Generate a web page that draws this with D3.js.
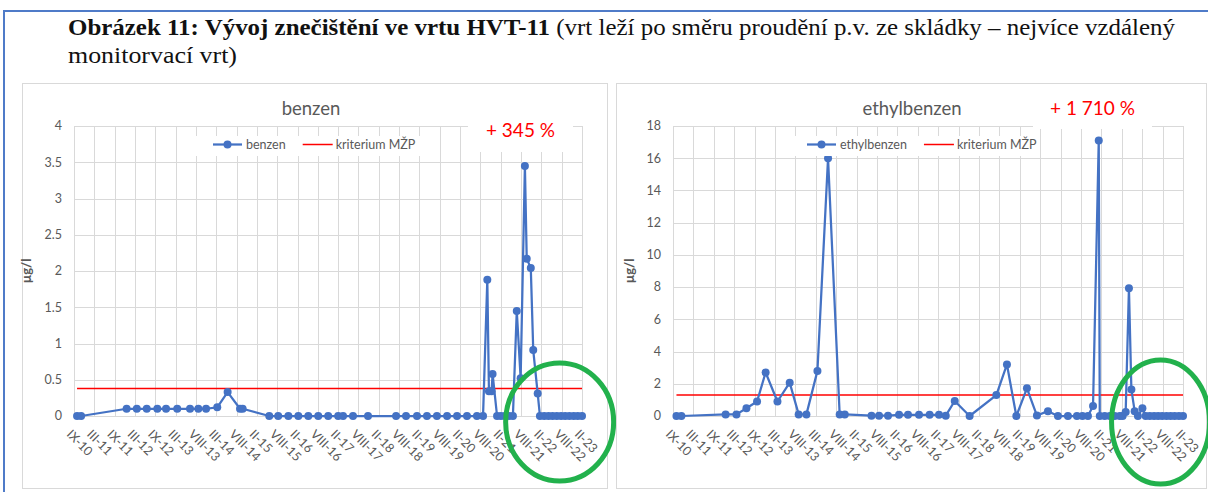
<!DOCTYPE html>
<html>
<head>
<meta charset="utf-8">
<script src="https://cdn.jsdelivr.net/npm/d3@7"></script>
<style>
  body { margin: 0; background: #fff; }
  svg { display: block; font-family: Lato, "Open Sans", sans-serif; }
</style>
</head>
<body>
<svg id="chart" width="1208" height="492"></svg>
<script>
// Sampling dates are placed on the axis as fractions of the tick spacing (0 = IX-10 ... 25 = II-23)
const dateLabels = ["IX-10", "III-11", "IX-11", "III-12", "IX-12", "III-13", "VIII-13", "III-14", "VIII-14", "II-15",
  "VIII-15", "II-16", "VIII-16", "II-17", "VIII-17", "II-18", "VIII-18", "II-19", "VIII-19", "II-20",
  "VIII-20", "II-21", "VIII-21", "II-22", "VIII-22", "II-23"];

const benzenX = [0.15, 0.35, 2.59, 3.09, 3.58, 4.10, 4.53, 5.08, 5.71, 6.12, 6.50, 7.05, 7.56, 8.17, 8.30,
  9.61, 10.05, 10.55, 11.04, 11.53, 12.02, 12.51, 13.00, 13.24, 13.73, 14.47,
  15.85, 16.34, 16.88, 17.37, 17.86, 18.36, 18.85, 19.34, 19.83, 20.13,
  20.34, 20.42, 20.55, 20.60, 20.82, 21.01, 21.21, 21.41, 21.60,
  21.79, 21.98, 22.19, 22.28, 22.48, 22.60, 22.82,
  22.93, 23.14, 23.35, 23.55, 23.76, 23.97, 24.17, 24.38, 24.59, 24.79, 25.0];
const benzenValues = [0, 0, 0.1, 0.1, 0.1, 0.1, 0.1, 0.1, 0.1, 0.1, 0.1, 0.12, 0.33, 0.1, 0.1,
  0, 0, 0, 0, 0, 0, 0, 0, 0, 0, 0,
  0, 0, 0, 0, 0, 0, 0, 0, 0, 0,
  1.88, 0.34, 0.34, 0.58, 0, 0, 0, 0, 0,
  1.45, 0.52, 3.45, 2.17, 2.04, 0.91, 0.31,
  0, 0, 0, 0, 0, 0, 0, 0, 0, 0, 0];

const ethylX = [0.17, 0.41, 2.58, 3.11, 3.60, 4.12, 4.54, 5.12, 5.72, 6.16, 6.54, 7.08, 7.60, 8.17, 8.42,
  9.73, 10.10, 10.54, 11.08, 11.52, 12.06, 12.58, 13.04, 13.37, 13.81, 14.54,
  15.85, 16.37, 16.83, 17.35, 17.84, 18.38, 18.87, 19.36, 19.80, 20.07, 20.34, 20.59, 20.87,
  20.92, 21.16, 21.41, 21.65, 21.90, 22.04, 22.19, 22.35, 22.47, 22.63, 22.79, 23.01,
  23.17, 23.37, 23.58, 23.78, 23.98, 24.19, 24.39, 24.59, 24.80, 25.0];
const ethylValues = [0, 0, 0.1, 0.1, 0.48, 0.9, 2.7, 0.9, 2.07, 0.1, 0.1, 2.8, 16.0, 0.1, 0.1,
  0.02, 0.02, 0.02, 0.07, 0.07, 0.07, 0.07, 0.07, 0.02, 0.93, 0,
  1.3, 3.2, 0, 1.72, 0.03, 0.3, 0, 0, 0, 0, 0, 0.62, 17.1,
  0, 0, 0, 0, 0, 0, 0.25, 7.93, 1.65, 0.3, 0, 0.48,
  0, 0, 0, 0, 0, 0, 0, 0, 0, 0];

const benzenLimit = 0.38;
const ethylLimit = 1.3;
const benzenTicks = [0, 0.5, 1, 1.5, 2, 2.5, 3, 3.5, 4];
const ethylTicks = [0, 2, 4, 6, 8, 10, 12, 14, 16, 18];

const BLUE = "#4472c4";
const GREY = "#595959";

const svg = d3.select("#chart");

// page frame and caption
svg.append("path")
  .attr("d", "M4,492V11H1208")
  .attr("fill", "none")
  .attr("stroke", "#4f7bc8")
  .attr("stroke-width", 2);

const caption = svg.append("text")
  .attr("x", 68).attr("y", 35)
  .attr("font-family", "'Liberation Serif', 'DejaVu Serif', serif")
  .attr("font-size", 23)
  .attr("textLength", 1107)
  .attr("lengthAdjust", "spacingAndGlyphs")
  .attr("fill", "#111");
caption.append("tspan").attr("font-weight", "bold").text("Obrázek 11: Vývoj znečištění ve vrtu HVT-11");
caption.append("tspan").text(" (vrt leží po směru proudění p.v. ze skládky – nejvíce vzdálený");
svg.append("text")
  .attr("x", 68).attr("y", 63)
  .attr("font-family", "'Liberation Serif', 'DejaVu Serif', serif")
  .attr("font-size", 23)
  .attr("textLength", 169)
  .attr("lengthAdjust", "spacingAndGlyphs")
  .attr("fill", "#111")
  .text("monitorvací vrt)");

function drawChart(cfg) {
  const g = svg.append("g");

  // chart area box
  g.append("rect")
    .attr("x", cfg.box[0] + 0.5).attr("y", cfg.box[1] + 0.5)
    .attr("width", cfg.box[2]).attr("height", cfg.box[3])
    .attr("fill", "#fff").attr("stroke", "#d9d9d9");

  const x = d3.scaleLinear().domain([0, dateLabels.length - 1]).range([cfg.left, cfg.right]);
  const y = d3.scaleLinear().domain([0, d3.max(cfg.yTicks)]).range([cfg.bottom, cfg.top]);

  // gridlines
  g.append("g").selectAll("line")
    .data(d3.range(dateLabels.length))
    .join("line")
    .attr("x1", d => Math.round(x(d)) + 0.5).attr("x2", d => Math.round(x(d)) + 0.5)
    .attr("y1", cfg.top).attr("y2", cfg.bottom)
    .attr("stroke", "#d9d9d9");
  g.append("g").selectAll("line")
    .data(cfg.yTicks)
    .join("line")
    .attr("x1", cfg.left).attr("x2", cfg.right)
    .attr("y1", d => Math.round(y(d)) + 0.5).attr("y2", d => Math.round(y(d)) + 0.5)
    .attr("stroke", "#d9d9d9");

  // y tick labels
  g.append("g").selectAll("text")
    .data(cfg.yTicks)
    .join("text")
    .attr("x", cfg.left - 12)
    .attr("y", d => y(d))
    .attr("dy", "0.35em")
    .attr("text-anchor", "end")
    .attr("font-size", 12.5)
    .attr("fill", GREY)
    .text(d => d);

  // x tick labels, rotated 45 degrees
  g.append("g").selectAll("text")
    .data(dateLabels)
    .join("text")
    .attr("transform", (d, i) => `translate(${x(i) - 5},${cfg.bottom + 16}) rotate(45)`)
    .attr("dy", "0.35em")
    .attr("font-size", 12.5)
    .attr("fill", GREY)
    .text(d => d);

  // axis title
  g.append("text")
    .attr("transform", `translate(${cfg.yTitleX},${(cfg.top + cfg.bottom) / 2}) rotate(-90)`)
    .attr("text-anchor", "middle")
    .attr("font-size", 13)
    .attr("font-weight", "bold")
    .attr("fill", GREY)
    .text("µg/l");

  // chart title
  g.append("text")
    .attr("x", cfg.titleX).attr("y", 115)
    .attr("text-anchor", "middle")
    .attr("font-size", 18.5)
    .attr("fill", GREY)
    .text(cfg.name);

  // kriterium MŽP
  const pts = cfg.xs.map((d, i) => ({ x: d, v: cfg.values[i] }));
  const line = d3.line().x(d => x(d.x)).y(d => y(d.v));
  g.append("path")
    .datum([{ x: cfg.xs[0], v: cfg.limit }, { x: cfg.xs[cfg.xs.length - 1], v: cfg.limit }])
    .attr("d", line)
    .attr("stroke", "#ff0000")
    .attr("stroke-width", 1.5)
    .attr("fill", "none");

  // measured series
  g.append("path")
    .datum(pts)
    .attr("d", line)
    .attr("fill", "none")
    .attr("stroke", BLUE)
    .attr("stroke-width", 2.25)
    .attr("stroke-linejoin", "round");
  g.append("g").selectAll("circle")
    .data(pts)
    .join("circle")
    .attr("cx", d => x(d.x))
    .attr("cy", d => y(d.v))
    .attr("r", 4)
    .attr("fill", BLUE);

  // legend
  const lg = g.append("g");
  lg.append("rect")
    .attr("x", cfg.legend[0]).attr("y", 136)
    .attr("width", cfg.legend[1]).attr("height", 20)
    .attr("fill", "#fff");
  const lx = cfg.legend[0] + 17;
  lg.append("line").attr("x1", lx).attr("x2", lx + 29).attr("y1", 144.5).attr("y2", 144.5)
    .attr("stroke", BLUE).attr("stroke-width", 2.25);
  lg.append("circle").attr("cx", lx + 14.5).attr("cy", 144.5).attr("r", 4).attr("fill", BLUE);
  const t1 = lg.append("text").attr("x", lx + 33).attr("y", 144.5).attr("dy", "0.35em")
    .attr("font-size", 12.5).attr("fill", GREY).text(cfg.name);
  const rx = lx + 33 + t1.node().getComputedTextLength() + 17;
  lg.append("line").attr("x1", rx).attr("x2", rx + 30).attr("y1", 144.5).attr("y2", 144.5)
    .attr("stroke", "#ff0000").attr("stroke-width", 1.5);
  lg.append("text").attr("x", rx + 33).attr("y", 144.5).attr("dy", "0.35em")
    .attr("font-size", 12.5).attr("fill", GREY).text("kriterium MŽP");

  // increase note
  g.append("rect")
    .attr("x", cfg.note[0]).attr("y", 110)
    .attr("width", cfg.note[1]).attr("height", cfg.note[2] - 110)
    .attr("fill", "#fff");
  g.append("text")
    .attr("x", cfg.note[0] + cfg.note[1] / 2).attr("y", cfg.note[3])
    .attr("text-anchor", "middle")
    .attr("font-size", 19)
    .attr("fill", "#ff0000")
    .text(cfg.noteText);

  // highlight of the last samples
  g.append("ellipse")
    .attr("cx", x(23.9)).attr("cy", cfg.bottom + 6)
    .attr("rx", cfg.ell[0]).attr("ry", cfg.ell[1])
    .attr("fill", "none")
    .attr("stroke", "#22b14c")
    .attr("stroke-width", 5);
}

drawChart({
  name: "benzen", xs: benzenX, values: benzenValues, limit: benzenLimit, yTicks: benzenTicks,
  box: [22, 83, 585, 405], left: 74, right: 582, top: 126, bottom: 416,
  yTitleX: 31, titleX: 311, legend: [196, 226],
  note: [468, 105, 152, 137], noteText: "+ 345 %", ell: [54, 59]
});

drawChart({
  name: "ethylbenzen", xs: ethylX, values: ethylValues, limit: ethylLimit, yTicks: ethylTicks,
  box: [616, 83, 590, 405], left: 673, right: 1183, top: 126, bottom: 416,
  yTitleX: 634, titleX: 912, legend: [790, 246],
  note: [1033, 119, 129, 115], noteText: "+ 1 710 %", ell: [49, 62]
});
</script>
</body>
</html>
